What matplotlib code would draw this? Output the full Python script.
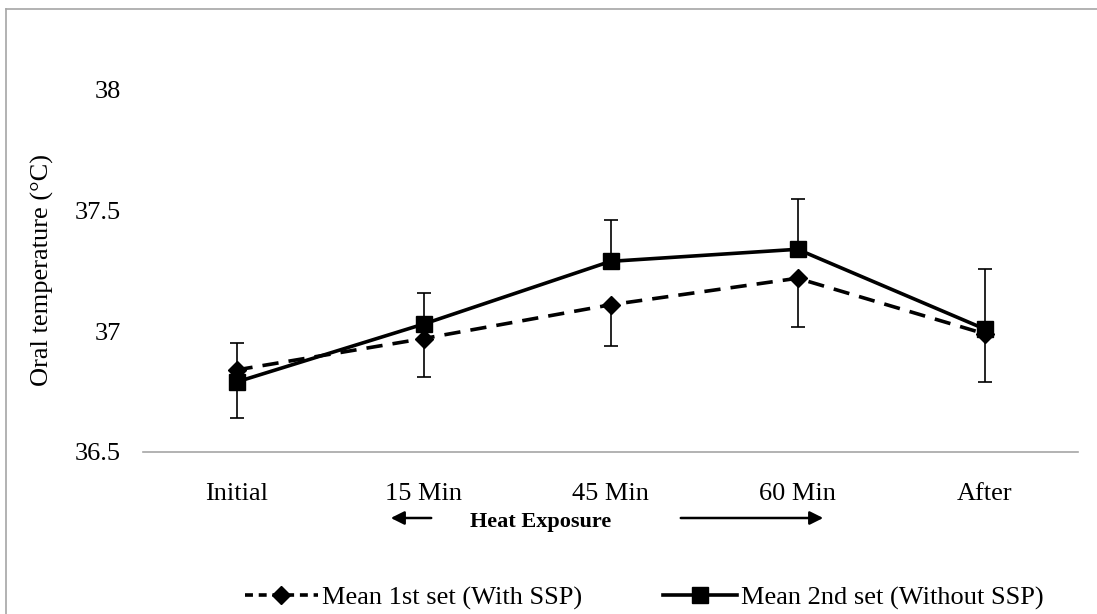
import matplotlib.pyplot as plt
from matplotlib.lines import Line2D

plt.rcParams['font.family'] = ['Liberation Serif', 'DejaVu Serif']

# data
categories = ['Initial', '15 Min', '45 Min', '60 Min', 'After']
mean_1st = [36.84, 36.97, 37.11, 37.22, 36.99]   # with SSP (diamond, dashed)
err_1st = [0.20, 0.16, 0.17, 0.20, 0.20]          # drawn downward only
mean_2nd = [36.79, 37.03, 37.29, 37.34, 37.01]   # without SSP (square, solid)
err_2nd = [0.16, 0.13, 0.17, 0.21, 0.25]          # drawn upward only
yticks = [36.5, 37, 37.5, 38]

fig = plt.figure(figsize=(10.97, 6.14), dpi=100)
ax = fig.add_axes([143 / 1097, 1 - 452 / 614, (1078 - 143) / 1097, (452 - 90) / 614])

x = list(range(len(categories)))

ax.errorbar(x, mean_1st, yerr=[err_1st, [0] * 5], fmt='none', ecolor='black',
            elinewidth=1.2, capsize=5, capthick=1.2, zorder=2)
ax.errorbar(x, mean_2nd, yerr=[[0] * 5, err_2nd], fmt='none', ecolor='black',
            elinewidth=1.2, capsize=5, capthick=1.2, zorder=2)

ax.plot(x, mean_1st, color='black', linestyle=(0, (4.5, 2.8)), linewidth=2.6,
        marker='D', markersize=9.5, zorder=3)
ax.plot(x, mean_2nd, color='black', linestyle='-', linewidth=2.6,
        marker='s', markersize=11.5, zorder=4)

ax.set_xlim(-0.5, 4.5)
ax.set_ylim(36.5, 38.0)
ax.set_xticks(x)
ax.set_xticklabels(categories, fontsize=19)
ax.set_yticks(yticks)
ax.set_yticklabels(['36.5', '37', '37.5', '38'], fontsize=19)
ax.tick_params(axis='x', length=0, pad=22)
ax.tick_params(axis='y', length=0, pad=16)

for side in ['top', 'right', 'left']:
    ax.spines[side].set_visible(False)
ax.spines['bottom'].set_color('#a6a6a6')
ax.spines['bottom'].set_linewidth(1.2)

fig.text(42 / 1097, 1 - 270 / 614, 'Oral temperature (°C)', rotation=90,
         ha='center', va='center', fontsize=19)

# heat exposure annotation
fig.text(541 / 1097, 1 - 522 / 614, 'Heat Exposure', ha='center', va='center',
         fontsize=16, fontweight='bold')
ax.annotate('', xy=(388 / 1097, 1 - 518 / 614), xytext=(434 / 1097, 1 - 518 / 614),
            xycoords='figure fraction', textcoords='figure fraction',
            arrowprops=dict(arrowstyle='-|>', color='black', lw=1.8,
                            mutation_scale=20), annotation_clip=False)
ax.annotate('', xy=(826 / 1097, 1 - 518 / 614), xytext=(678 / 1097, 1 - 518 / 614),
            xycoords='figure fraction', textcoords='figure fraction',
            arrowprops=dict(arrowstyle='-|>', color='black', lw=1.8,
                            mutation_scale=20), annotation_clip=False)

# legend
handles = [
    Line2D([], [], color='black', linestyle=(0, (2.2, 1.6)), linewidth=2.6,
           marker='D', markersize=9.5),
    Line2D([], [], color='black', linestyle='-', linewidth=2.6,
           marker='s', markersize=11.5),
]
fig.legend(handles, ['Mean 1st set (With SSP)', 'Mean 2nd set (Without SSP)'],
           loc='center', bbox_to_anchor=(644 / 1097, 1 - 598 / 614), ncol=2,
           frameon=False, fontsize=19, handlelength=2.8, handletextpad=0.15,
           columnspacing=3.05)

# chart border (left and top)
fig.add_artist(Line2D([6 / 1097, 6 / 1097], [0, 1 - 9 / 614], color='#a6a6a6',
                      linewidth=1.2, transform=fig.transFigure))
fig.add_artist(Line2D([6 / 1097, 1], [1 - 9 / 614, 1 - 9 / 614], color='#a6a6a6',
                      linewidth=1.2, transform=fig.transFigure))

fig.savefig('out.png', dpi=100)
